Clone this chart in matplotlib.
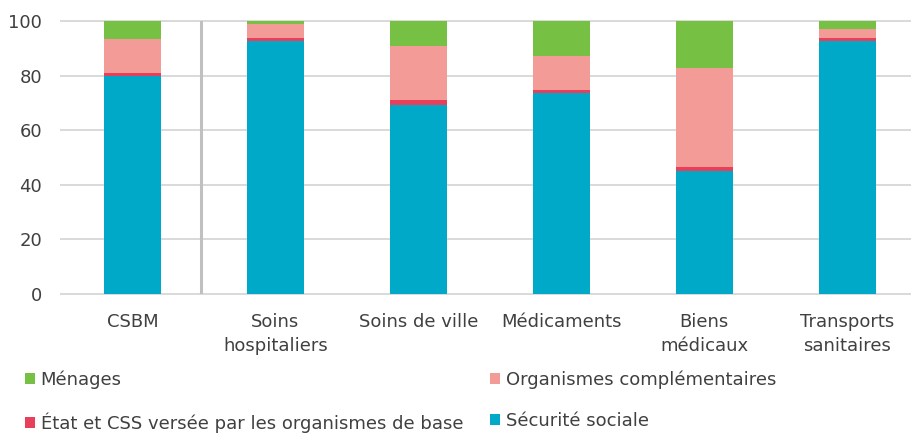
import matplotlib
matplotlib.use("Agg")
import matplotlib.pyplot as plt
import numpy as np

plt.rcParams["font.family"] = ["DejaVu Sans"]

categories = ["CSBM", "Soins\nhospitaliers", "Soins de ville", "Médicaments",
              "Biens\nmédicaux", "Transports\nsanitaires"]

# parts in %, bottom to top
securite_sociale = [79.8, 92.8, 69.2, 73.5, 45.0, 92.8]
etat_css = [1.2, 1.0, 1.9, 1.2, 1.6, 0.8]
organismes_compl = [12.4, 5.0, 19.9, 12.5, 36.1, 3.6]
menages = [6.6, 1.2, 9.0, 12.8, 17.3, 2.8]

series = [
    ("Sécurité sociale", securite_sociale, "#00A9C8"),
    ("État et CSS versée par les organismes de base", etat_css, "#E8405A"),
    ("Organismes complémentaires", organismes_compl, "#F29B97"),
    ("Ménages", menages, "#76C043"),
]

text_color = "#404040"

fig = plt.figure(figsize=(9.12, 4.33), dpi=100)
ax = fig.add_axes([61 / 912, 1 - 294 / 433, 1 - 61 / 912, 273 / 433])

x = np.arange(len(categories))
bottom = np.zeros(len(categories))
handles = {}
for name, vals, color in series:
    bars = ax.bar(x, vals, width=0.4, bottom=bottom, color=color, zorder=3)
    handles[name] = bars
    bottom += np.array(vals)

ax.set_ylim(0, 100)
ax.set_xlim(-0.5, (912 - 132.3) / 143)
ax.set_yticks(range(0, 101, 20))
ax.yaxis.grid(True, color="#d9d9d9", linewidth=1.4, zorder=0, clip_on=False)
ax.set_axisbelow(True)
for s in ax.spines.values():
    s.set_visible(False)
ax.tick_params(axis="both", length=0, labelsize=13, colors=text_color)
ax.tick_params(axis="y", pad=13.5)
ax.tick_params(axis="x", pad=14)
ax.set_xticks(x)
ax.set_xticklabels(categories, linespacing=1.4, va="top")

# separator between CSBM and its components
ax.axvline(0.478, ymin=0, ymax=1, color="#c0c0c0", linewidth=2.2, zorder=2)

order = ["Ménages", "État et CSS versée par les organismes de base",
         "Organismes complémentaires", "Sécurité sociale"]
leg = fig.legend([handles[n] for n in order], order, ncol=2,
                 loc="upper left", bbox_to_anchor=(18 / 912, 1 - 363 / 433),
                 frameon=False, fontsize=13, handlelength=0.55, handleheight=0.55,
                 handletextpad=0.3, columnspacing=1.5, labelspacing=1.3,
                 borderaxespad=0)
for t in leg.get_texts():
    t.set_color(text_color)

fig.savefig("out.png", dpi=100)
